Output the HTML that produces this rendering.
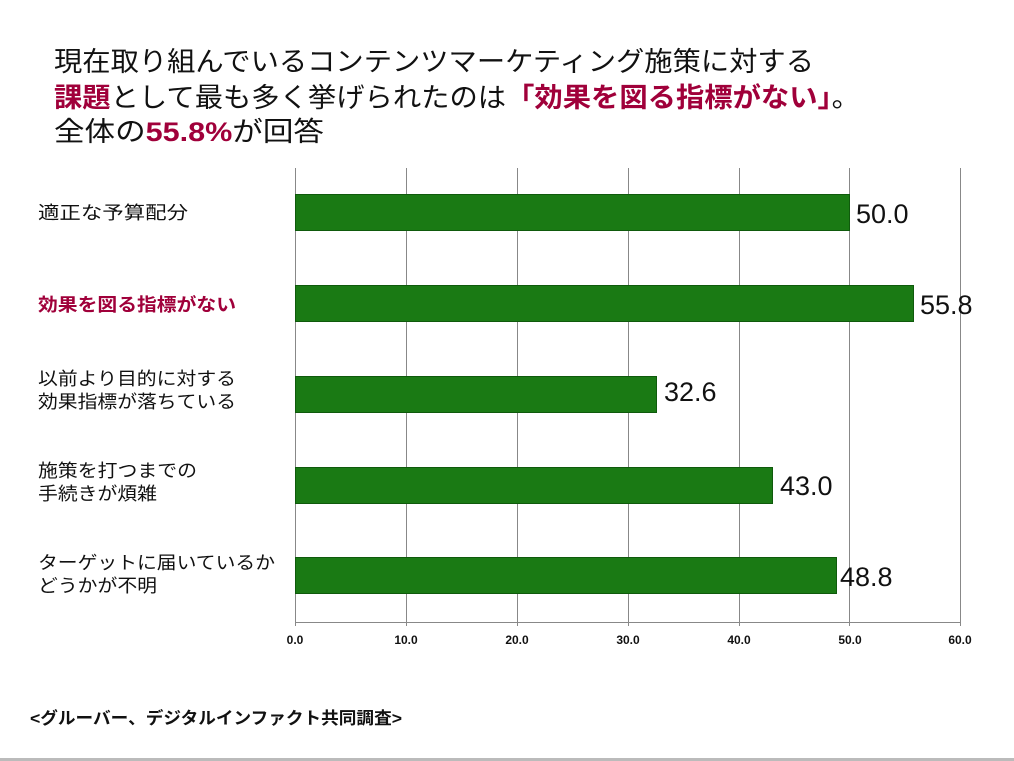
<!DOCTYPE html>
<html><head><meta charset="utf-8"><style>
html,body{margin:0;padding:0;background:#fff;}
svg{display:block;}
text{font-family:"Liberation Sans","Noto Sans CJK JP",sans-serif;}
</style></head><body>
<svg width="1014" height="761" viewBox="0 0 1014 761" xmlns="http://www.w3.org/2000/svg">
<rect width="1014" height="761" fill="#fff"/>
<g font-size="27" fill="#111">
<text x="54" y="71" textLength="760" lengthAdjust="spacingAndGlyphs">現在取り組んでいるコンテンツマーケティング施策に対する</text>
<text x="54" y="107" textLength="806" lengthAdjust="spacingAndGlyphs"><tspan fill="#a0003a" font-weight="bold">課題</tspan>として最も多く挙げられたのは<tspan fill="#a0003a" font-weight="bold">「効果を図る指標がない」</tspan>。</text>
<text x="54" y="141" textLength="270" lengthAdjust="spacingAndGlyphs">全体の<tspan fill="#a0003a" font-weight="bold">55.8%</tspan>が回答</text>
</g>
<g stroke="#888" stroke-width="1">
<line x1="295.5" y1="168" x2="295.5" y2="626"/>
<line x1="406.5" y1="168" x2="406.5" y2="626"/>
<line x1="517.5" y1="168" x2="517.5" y2="626"/>
<line x1="628.5" y1="168" x2="628.5" y2="626"/>
<line x1="739.5" y1="168" x2="739.5" y2="626"/>
<line x1="849.5" y1="168" x2="849.5" y2="626"/>
<line x1="960.5" y1="168" x2="960.5" y2="626"/>
<line x1="295" y1="622.5" x2="961" y2="622.5"/>
</g>
<g fill="#1a7a14" stroke="#0f5a0c" stroke-width="1">
<rect x="295.5" y="194.5" width="554" height="36"/>
<rect x="295.5" y="285.5" width="618" height="36"/>
<rect x="295.5" y="376.5" width="361" height="36"/>
<rect x="295.5" y="467.5" width="477" height="36"/>
<rect x="295.5" y="557.5" width="541" height="36"/>
</g>
<g font-size="27" fill="#111">
<text x="856" y="223">50.0</text>
<text x="920" y="314">55.8</text>
<text x="664" y="401">32.6</text>
<text x="780" y="495">43.0</text>
<text x="840" y="586">48.8</text>
</g>
<g font-size="18" fill="#111">
<text x="38" y="219" textLength="150" lengthAdjust="spacingAndGlyphs">適正な予算配分</text>
<text x="38" y="311" fill="#a0003a" font-weight="bold" textLength="198" lengthAdjust="spacingAndGlyphs">効果を図る指標がない</text>
<text x="38" y="385" textLength="198" lengthAdjust="spacingAndGlyphs">以前より目的に対する</text>
<text x="38" y="408" textLength="198" lengthAdjust="spacingAndGlyphs">効果指標が落ちている</text>
<text x="38" y="477" textLength="159" lengthAdjust="spacingAndGlyphs">施策を打つまでの</text>
<text x="38" y="500" textLength="119" lengthAdjust="spacingAndGlyphs">手続きが煩雑</text>
<text x="38" y="569" textLength="237" lengthAdjust="spacingAndGlyphs">ターゲットに届いているか</text>
<text x="38" y="592" textLength="119" lengthAdjust="spacingAndGlyphs">どうかが不明</text>
</g>
<g font-size="12" font-weight="bold" fill="#111" text-anchor="middle">
<text x="295" y="644">0.0</text>
<text x="406" y="644">10.0</text>
<text x="517" y="644">20.0</text>
<text x="628" y="644">30.0</text>
<text x="739" y="644">40.0</text>
<text x="850" y="644">50.0</text>
<text x="960" y="644">60.0</text>
</g>
<text x="30" y="724" font-size="17" font-weight="bold" fill="#111" textLength="372" lengthAdjust="spacingAndGlyphs">&lt;グルーバー、デジタルインファクト共同調査&gt;</text>
<rect x="0" y="758" width="1014" height="3" fill="#bbb"/>
</svg>
</body></html>
